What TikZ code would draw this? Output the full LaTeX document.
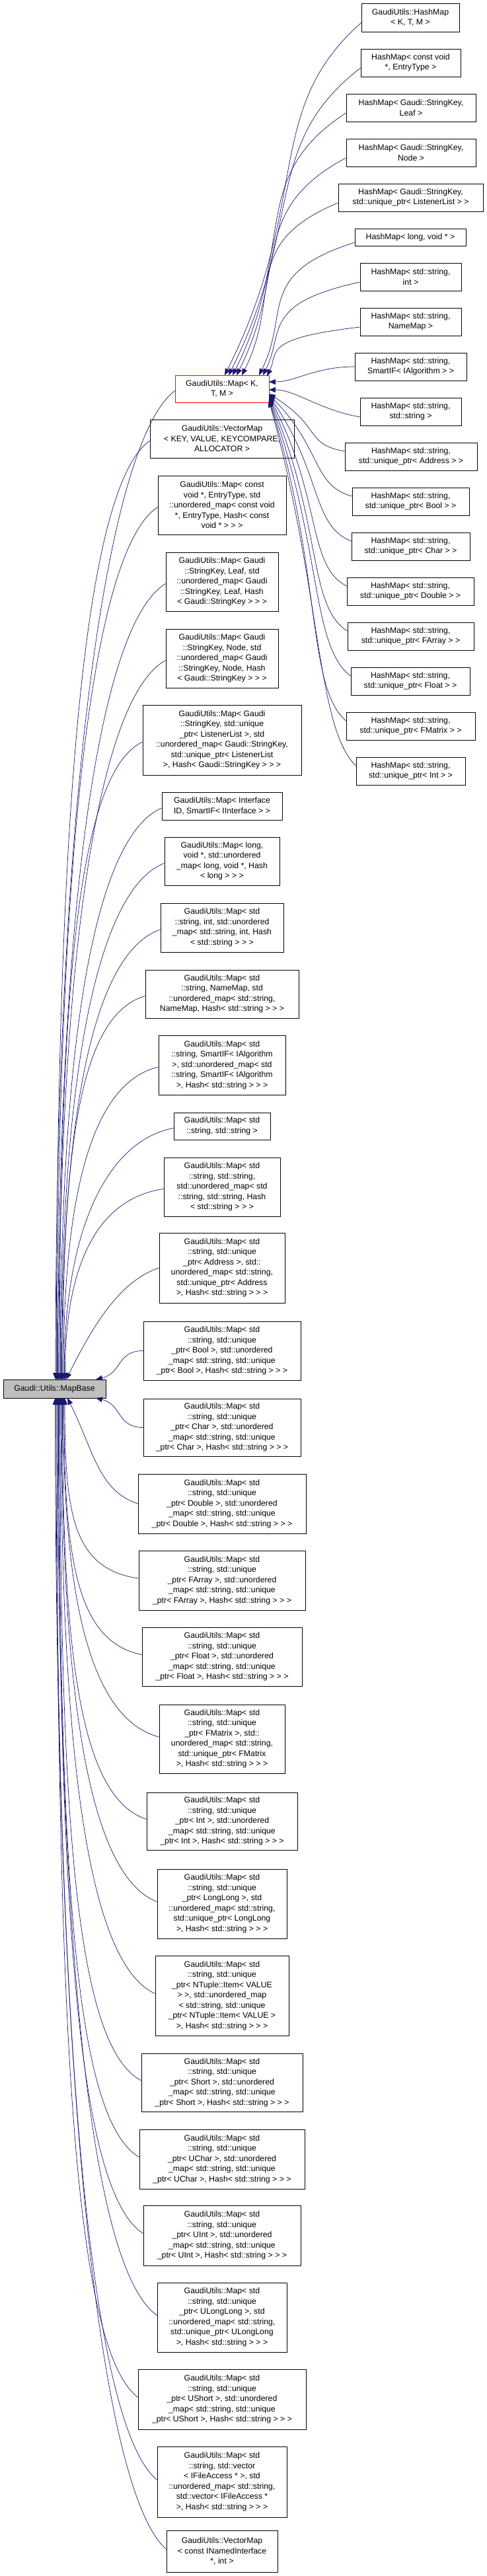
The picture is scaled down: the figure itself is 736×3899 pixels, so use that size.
\documentclass[tikz,border=0pt]{standalone}
\usepackage{fontspec}
\setmainfont{Liberation Sans}
\usetikzlibrary{arrows.meta}
\definecolor{edgec}{HTML}{191970}
\tikzset{
  box/.style={draw=black, line width=0.8pt, inner sep=0pt, align=center, font=\fontsize{12.3}{15.5}\selectfont, fill=white},
  redbox/.style={box, draw=red},
  basebox/.style={box, fill=black!25},
  edge/.style={draw=edgec, line width=0.7pt, -{Triangle[length=10pt,width=8pt]}}
}
\newcommand{\mb}[6]{\node[#1, minimum width=#4pt, minimum height=#5pt] (#2) at (#3) {#6};}
\begin{document}
\begin{tikzpicture}[x=1pt,y=-1pt]
\useasboundingbox (0,0) rectangle (736,3899);
% base
\mb{basebox}{base}{82.5,2102}{155}{28}{Gaudi::Utils::MapBase}
% middle column
\mb{redbox}{m0}{336,588.5}{142}{41}{GaudiUtils::Map< K,\\ T, M >}
\mb{box}{m1}{336,664}{218}{58}{GaudiUtils::VectorMap\\< KEY, VALUE, KEYCOMPARE,\\ ALLOCATOR >}
\mb{box}{m2}{336,764.5}{194}{89}{GaudiUtils::Map< const\\ void *, EntryType, std\\::unordered\_map< const void\\ *, EntryType, Hash< const\\ void * > > >}
\mb{box}{m3}{336,880.5}{170}{89}{GaudiUtils::Map< Gaudi\\::StringKey, Leaf, std\\::unordered\_map< Gaudi\\::StringKey, Leaf, Hash\\< Gaudi::StringKey > > >}
\mb{box}{m4}{336,996.5}{170}{89}{GaudiUtils::Map< Gaudi\\::StringKey, Node, std\\::unordered\_map< Gaudi\\::StringKey, Node, Hash\\< Gaudi::StringKey > > >}
\mb{box}{m5}{336,1120}{240}{106}{GaudiUtils::Map< Gaudi\\::StringKey, std::unique\\\_ptr< ListenerList >, std\\::unordered\_map< Gaudi::StringKey,\\ std::unique\_ptr< ListenerList\\ >, Hash< Gaudi::StringKey > > >}
\mb{box}{m6}{336,1220}{182}{42}{GaudiUtils::Map< Interface\\ID, SmartIF< IInterface > >}
\mb{box}{m7}{336,1303.5}{174}{73}{GaudiUtils::Map< long,\\ void *, std::unordered\\\_map< long, void *, Hash\\< long > > >}
\mb{box}{m8}{336,1404}{186}{74}{GaudiUtils::Map< std\\::string, int, std::unordered\\\_map< std::string, int, Hash\\< std::string > > >}
\mb{box}{m9}{336,1504.5}{232}{73}{GaudiUtils::Map< std\\::string, NameMap, std\\::unordered\_map< std::string,\\ NameMap, Hash< std::string > > >}
\mb{box}{m10}{336,1612}{192}{90}{GaudiUtils::Map< std\\::string, SmartIF< IAlgorithm\\ >, std::unordered\_map< std\\::string, SmartIF< IAlgorithm\\ >, Hash< std::string > > >}
\mb{box}{m11}{336,1704.5}{146}{41}{GaudiUtils::Map< std\\::string, std::string >}
\mb{box}{m12}{336,1796.5}{176}{89}{GaudiUtils::Map< std\\::string, std::string,\\ std::unordered\_map< std\\::string, std::string, Hash\\< std::string > > >}
\mb{box}{m13}{336,1919}{190}{106}{GaudiUtils::Map< std\\::string, std::unique\\\_ptr< Address >, std::\\unordered\_map< std::string,\\ std::unique\_ptr< Address\\ >, Hash< std::string > > >}
\mb{box}{m14}{336,2044.5}{238}{89}{GaudiUtils::Map< std\\::string, std::unique\\\_ptr< Bool >, std::unordered\\\_map< std::string, std::unique\\\_ptr< Bool >, Hash< std::string > > >}
\mb{box}{m15}{336,2160.5}{238}{87}{GaudiUtils::Map< std\\::string, std::unique\\\_ptr< Char >, std::unordered\\\_map< std::string, std::unique\\\_ptr< Char >, Hash< std::string > > >}
\mb{box}{m16}{336,2276}{254}{90}{GaudiUtils::Map< std\\::string, std::unique\\\_ptr< Double >, std::unordered\\\_map< std::string, std::unique\\\_ptr< Double >, Hash< std::string > > >}
\mb{box}{m17}{336,2392}{252}{90}{GaudiUtils::Map< std\\::string, std::unique\\\_ptr< FArray >, std::unordered\\\_map< std::string, std::unique\\\_ptr< FArray >, Hash< std::string > > >}
\mb{box}{m18}{336,2507.5}{242}{89}{GaudiUtils::Map< std\\::string, std::unique\\\_ptr< Float >, std::unordered\\\_map< std::string, std::unique\\\_ptr< Float >, Hash< std::string > > >}
\mb{box}{m19}{336,2632}{190}{104}{GaudiUtils::Map< std\\::string, std::unique\\\_ptr< FMatrix >, std::\\unordered\_map< std::string,\\ std::unique\_ptr< FMatrix\\ >, Hash< std::string > > >}
\mb{box}{m20}{336,2756.5}{228}{87}{GaudiUtils::Map< std\\::string, std::unique\\\_ptr< Int >, std::unordered\\\_map< std::string, std::unique\\\_ptr< Int >, Hash< std::string > > >}
\mb{box}{m21}{336,2881.5}{196}{105}{GaudiUtils::Map< std\\::string, std::unique\\\_ptr< LongLong >, std\\::unordered\_map< std::string,\\ std::unique\_ptr< LongLong\\ >, Hash< std::string > > >}
\mb{box}{m22}{336,3020.5}{202}{121}{GaudiUtils::Map< std\\::string, std::unique\\\_ptr< NTuple::Item< VALUE\\ > >, std::unordered\_map\\< std::string, std::unique\\\_ptr< NTuple::Item< VALUE >\\ >, Hash< std::string > > >}
\mb{box}{m23}{336,3152}{244}{88}{GaudiUtils::Map< std\\::string, std::unique\\\_ptr< Short >, std::unordered\\\_map< std::string, std::unique\\\_ptr< Short >, Hash< std::string > > >}
\mb{box}{m24}{336,3268}{250}{90}{GaudiUtils::Map< std\\::string, std::unique\\\_ptr< UChar >, std::unordered\\\_map< std::string, std::unique\\\_ptr< UChar >, Hash< std::string > > >}
\mb{box}{m25}{336,3383.5}{238}{91}{GaudiUtils::Map< std\\::string, std::unique\\\_ptr< UInt >, std::unordered\\\_map< std::string, std::unique\\\_ptr< UInt >, Hash< std::string > > >}
\mb{box}{m26}{336,3507.5}{196}{105}{GaudiUtils::Map< std\\::string, std::unique\\\_ptr< ULongLong >, std\\::unordered\_map< std::string,\\ std::unique\_ptr< ULongLong\\ >, Hash< std::string > > >}
\mb{box}{m27}{336,3631.5}{254}{91}{GaudiUtils::Map< std\\::string, std::unique\\\_ptr< UShort >, std::unordered\\\_map< std::string, std::unique\\\_ptr< UShort >, Hash< std::string > > >}
\mb{box}{m28}{336,3756.5}{196}{107}{GaudiUtils::Map< std\\::string, std::vector\\< IFileAccess * >, std\\::unordered\_map< std::string,\\ std::vector< IFileAccess *\\ >, Hash< std::string > > >}
\mb{box}{m29}{336,3861.5}{168}{63}{GaudiUtils::VectorMap\\< const INamedInterface\\ *, int >}
% right column
\mb{box}{h1}{621,26.5}{148}{43}{GaudiUtils::HashMap\\< K, T, M >}
\mb{box}{h2}{621.5,95}{151}{42}{HashMap< const void\\ *, EntryType >}
\mb{box}{h3}{622,163}{196}{42}{HashMap< Gaudi::StringKey,\\ Leaf >}
\mb{box}{h4}{622,231}{196}{42}{HashMap< Gaudi::StringKey,\\ Node >}
\mb{box}{h5}{621.5,299}{219}{42}{HashMap< Gaudi::StringKey,\\ std::unique\_ptr< ListenerList > >}
\mb{box}{h6}{621,359}{168}{26}{HashMap< long, void * >}
\mb{box}{h7}{621.5,419}{153}{42}{HashMap< std::string,\\ int >}
\mb{box}{h8}{621.5,487}{153}{42}{HashMap< std::string,\\ NameMap >}
\mb{box}{h9}{621.5,555}{169}{42}{HashMap< std::string,\\ SmartIF< IAlgorithm > >}
\mb{box}{h10}{621.5,623}{153}{42}{HashMap< std::string,\\ std::string >}
\mb{box}{h11}{622,691}{200}{42}{HashMap< std::string,\\ std::unique\_ptr< Address > >}
\mb{box}{h12}{621.5,759}{177}{42}{HashMap< std::string,\\ std::unique\_ptr< Bool > >}
\mb{box}{h13}{621.5,827}{179}{42}{HashMap< std::string,\\ std::unique\_ptr< Char > >}
\mb{box}{h14}{621,895}{192}{42}{HashMap< std::string,\\ std::unique\_ptr< Double > >}
\mb{box}{h15}{621.5,963}{191}{42}{HashMap< std::string,\\ std::unique\_ptr< FArray > >}
\mb{box}{h16}{621,1031}{180}{42}{HashMap< std::string,\\ std::unique\_ptr< Float > >}
\mb{box}{h17}{621.5,1099}{195}{42}{HashMap< std::string,\\ std::unique\_ptr< FMatrix > >}
\mb{box}{h18}{621.5,1167}{165}{42}{HashMap< std::string,\\ std::unique\_ptr< Int > >}
% coordinates on red box
\coordinate (r1) at (340,568); \coordinate (r2) at (346,568);
\coordinate (r3) at (352,568); \coordinate (r4) at (358,568);
\coordinate (r5) at (366,568); \coordinate (r6) at (392,568);
\coordinate (r7) at (398,568); \coordinate (r8) at (404,569);
\coordinate (r9) at (407,578); \coordinate (r10) at (407,590);
\foreach \i in {11,...,18} { \coordinate (r\i) at (407,{596+(\i-11)*1.5}); }
% edges to red box
\foreach \i/\dy in {1/530,2/460,3/390,4/320,5/250,6/190,7/130,8/70} {
  \draw[edge] ([yshift=-8pt]h\i.west) .. controls +(-150,{0.25*\dy}) and +({0.25*\dy},{-0.5*\dy}) .. (r\i);
}
\draw[edge] (h9.west) .. controls +(-60,0) and +(40,0) .. (r9);
\draw[edge] ([yshift=-8pt]h10.west) .. controls +(-60,-10) and +(40,0) .. (r10);
\foreach \i/\dy in {11/100,12/160,13/230,14/300,15/370,16/440,17/510,18/580} {
  \draw[edge] ([yshift=8pt]h\i.west) .. controls +(-60,{-0.1*\dy}) and +(80,{0.5*\dy}) .. (r\i);
}
% edges to base (above)
\foreach \i/\dy in {0/1490,1/1420,2/1320,3/1200,4/1090,5/960,6/870,7/780,8/680,9/580,10/470,11/380,12/290} {
  \coordinate (bt\i) at ({84+\i*1.2},2088);
  \draw[edge] ([yshift=-3pt]m\i.west) .. controls +(-100,{0.05*\dy}) and +(0,{-0.6*\dy}) .. (bt\i);
}
\coordinate (bt13) at (100,2088); \coordinate (bt14) at (145,2088);
\coordinate (bb15) at (145,2116); \coordinate (bb16) at (102,2116);
\draw[edge] (m13.west) .. controls +(-60,20) and +(40,-80) .. (bt13);
\draw[edge] (m14.west) .. controls +(-40,0) and +(40,-10) .. (bt14);
\draw[edge] (m15.west) .. controls +(-40,0) and +(40,10) .. (bb15);
\draw[edge] (m16.west) .. controls +(-60,-20) and +(40,80) .. (bb16);
\foreach \i/\dy in {17/290,18/400,19/530,20/650,21/780,22/920,23/1050,24/1170,25/1280,26/1400,27/1530,28/1650,29/1760} {
  \coordinate (bb\i) at ({98-(\i-17)*1.2},2116);
  \draw[edge] ([yshift=3pt]m\i.west) .. controls +(-100,{-0.05*\dy}) and +(0,{0.6*\dy}) .. (bb\i);
}
\end{tikzpicture}
\end{document}
